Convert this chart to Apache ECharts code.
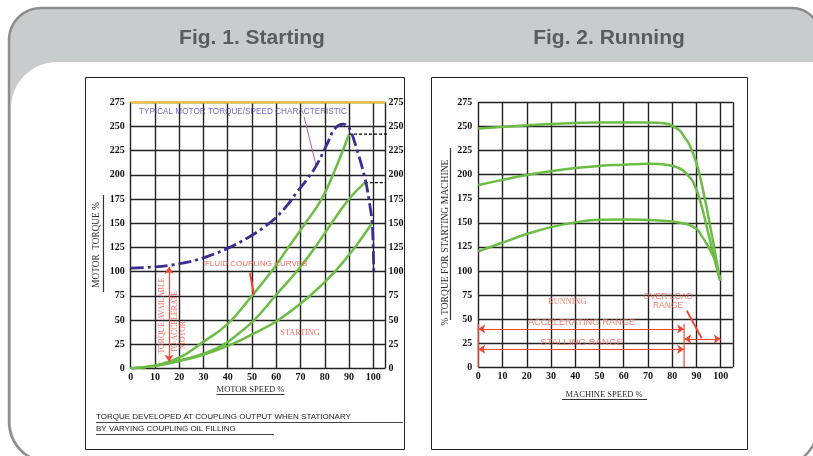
<!DOCTYPE html>
<html><head><meta charset="utf-8">
<script src="https://cdn.jsdelivr.net/npm/echarts@6/dist/echarts.min.js"></script>
<style>html,body{margin:0;padding:0;background:#fff}#c{width:813px;height:456px}</style>
</head><body><div id="c"></div>
<script>
// ---------- data ----------
const panelTitles = ['Fig. 1. Starting', 'Fig. 2. Running'];
const torqueTicks = [0, 275, 25];      // min, max, step
const speedTicks = [0, 105, 10];       // min, max, step (labels up to 100)

// Fig 1 – typical motor torque/speed characteristic
const motorSpeed  = [0, 8, 16, 24, 32, 40, 49, 55, 60, 65, 68.5, 72, 76.4, 81, 83.6, 86, 87.7, 90, 93.4, 96.8, 98.5, 99.6, 100.2];
const motorTorque = [103.5, 104.5, 106.5, 110, 116, 124, 136, 146, 156, 170, 182, 193, 209, 232, 246, 251.5, 252.5, 249, 225, 194, 170, 149, 100];
// Fig 1 – fluid coupling curves (three oil fillings)
const couplingA_x = [0, 10, 20, 28.6, 40, 50, 58, 65, 72, 78.7, 84.2, 90];
const couplingA_y = [0, 3, 11, 25, 46, 75, 100, 125, 150, 175, 205, 242];
const couplingB_x = [0, 10, 20, 30, 38, 45, 51, 60, 68.4, 76, 82.8, 90, 96.5];
const couplingB_y = [0, 2.5, 8, 15, 24, 37, 50, 76, 100, 125, 150, 175, 192];
const couplingC_x = [0, 10, 20, 30, 41.7, 50, 60.9, 73.9, 84.2, 92.4, 99.3];
const couplingC_y = [0, 2.5, 7.5, 14, 25, 35, 50, 75, 100, 125, 149.5];

// Fig 2 – % torque for starting machine vs machine speed
const runHigh_x = [0, 10, 19, 30, 40.6, 50, 60, 68, 73.6, 77, 79.1, 81, 83.2, 85, 87.3, 90.1, 92.8, 96.3, 99.7];
const runHigh_y = [247.9, 249.5, 251, 252.5, 253.5, 254, 254, 254, 253.8, 253, 251.7, 249, 245.5, 239, 230, 211, 183, 138, 90];
const runMid_x  = [0, 10, 20, 30, 40, 50, 60, 70.2, 75, 79.1, 82, 84.6, 86.5, 88.7, 91.5, 95, 99, 100];
const runMid_y  = [189.1, 194.5, 199.5, 203.5, 206.8, 209, 210.2, 211.3, 211, 209.5, 207.5, 204, 199, 192, 173, 138, 97, 90];
const runLow_x  = [0, 10.3, 20, 29.6, 40, 50.2, 60, 70.2, 79.1, 86, 90.1, 92, 94.2, 97.7, 99.7];
const runLow_y  = [120.3, 129.7, 138.3, 145.2, 150.4, 153.2, 153.5, 152.8, 151.5, 148.7, 143.5, 137, 128, 110.7, 91.7];

// Fig 2 – ranges
const accelRange = [0, 84.9, 39.8];     // from speed, to speed, at torque
const stallRange = [0, 84.9, 18.7];
const overloadRange = [85, 100, 29.4];

// ---------- helpers ----------
const SERIF = '"Liberation Serif","Times New Roman",serif';
const SANS = '"Liberation Sans",Arial,sans-serif';
const RED = '#ee4735', GREEN = '#6bbd46', BLUE = '#3b2e93', GRID = '#222222';
const pairs = (xs, ys) => xs.map((x, i) => [x, ys[i]]);

function curve(xs, ys, color, width, g, extra) {
  return Object.assign({
    type: 'line', xAxisIndex: g, yAxisIndex: g === 0 ? 0 : 2,
    data: pairs(xs, ys), smooth: 0.45, showSymbol: false, symbol: 'none',
    lineStyle: { color, width }, silent: true, z: 3
  }, extra || {});
}
function seg(p, q, color, width, g, extra) {
  return Object.assign({
    type: 'line', xAxisIndex: g, yAxisIndex: g === 0 ? 0 : 2, data: [p, q],
    symbol: 'none', lineStyle: { color, width }, silent: true, z: 4, clip: false
  }, extra || {});
}
function arrows(lines, g) {
  return {
    type: 'line', xAxisIndex: g, yAxisIndex: g === 0 ? 0 : 2, data: [], silent: true,
    markLine: {
      silent: true, animation: false, symbol: ['arrow', 'arrow'], symbolSize: 7,
      label: { show: false }, emphasis: { disabled: true },
      lineStyle: { color: RED, width: 1.2, type: 'solid' },
      data: lines.map(l => [{ coord: l[0] }, { coord: l[1] }])
    }
  };
}
function texts(items, g) {
  return {
    type: 'scatter', xAxisIndex: g, yAxisIndex: g === 0 ? 0 : 2, symbolSize: 0, silent: true, z: 6,
    data: items.map(t => ({
      value: t.at,
      label: Object.assign({ show: true, position: 'inside', formatter: t.text, color: RED,
        fontFamily: SANS, fontSize: 8 }, t.style || {})
    }))
  };
}

const axisLbl = { fontFamily: SERIF, fontWeight: 'bold', fontSize: 10, color: '#111' };
function xAx(g) {
  return { type: 'value', gridIndex: g, min: speedTicks[0], max: speedTicks[1], interval: speedTicks[2],
    axisLine: { show: false }, axisTick: { show: false },
    splitLine: { show: true, lineStyle: { color: GRID, width: 1.4 } },
    axisLabel: Object.assign({ margin: 4, formatter: v => v > 100 ? '' : String(v) }, axisLbl) };
}
function yAx(g, pos, labelsOnly) {
  return { type: 'value', gridIndex: g, position: pos, min: torqueTicks[0], max: torqueTicks[1], interval: torqueTicks[2],
    axisLine: { show: false }, axisTick: { show: false },
    splitLine: { show: !labelsOnly, lineStyle: { color: GRID, width: 1.4 } },
    axisLabel: Object.assign({ margin: labelsOnly ? 3 : 6 }, axisLbl) };
}

const series = [
  // ---- Fig 1 ----
  seg([0, 275], [105, 275], '#f7c13c', 2.2, 0),
  curve(couplingA_x, couplingA_y, GREEN, 2.5, 0),
  curve(couplingB_x, couplingB_y, GREEN, 2.5, 0),
  curve(couplingC_x, couplingC_y, GREEN, 2.5, 0),
  curve(motorSpeed, motorTorque, BLUE, 2.8, 0, { smooth: 0.35, lineStyle: { color: BLUE, width: 2.8, type: [13, 4, 3, 4] }, z: 5 }),
  seg([couplingA_x[couplingA_x.length - 1], couplingA_y[couplingA_y.length - 1]], [112, couplingA_y[couplingA_y.length - 1]], '#000', 1.2, 0, { lineStyle: { color: '#000', width: 1.2, type: [3, 2] } }),
  seg([couplingB_x[couplingB_x.length - 1], couplingB_y[couplingB_y.length - 1]], [105, couplingB_y[couplingB_y.length - 1]], '#000', 1.2, 0, { lineStyle: { color: '#000', width: 1.2, type: [3, 2] } }),
  seg([71.5, 260], [76.4, 210], '#b25aa9', 1, 0),
  seg([49.2, 98.8], [50.8, 75.6], RED, 2, 0),
  arrows([[[15.8, 104.9], [15.8, 6.8]]], 0),
  texts([
    { at: [3.4, 265], text: 'TYPICAL MOTOR TORQUE/SPEED CHARACTERISTIC', style: { position: 'right', distance: 0, color: '#4b3fa0', fontSize: 8.2 } },
    { at: [30.6, 107.8], text: 'FLUID COUPLING CURVES', style: { position: 'right', distance: 0, fontSize: 8 } },
    { at: [69.8, 36.2], text: 'STARTING', style: { fontFamily: SERIF, fontSize: 8.2 } },
    { at: [12.7, 54.6], text: 'TORQUE AVAILABLE', style: { fontFamily: SERIF, fontSize: 7.8, rotate: 90 } },
    { at: [18.3, 48.2], text: 'TO ACCELERATE', style: { fontFamily: SERIF, fontSize: 7.8, rotate: 90 } },
    { at: [21.6, 34.4], text: 'MOTOR', style: { fontFamily: SERIF, fontSize: 7.8, rotate: 90 } }
  ], 0),
  // ---- Fig 2 ----
  curve(runHigh_x, runHigh_y, GREEN, 2.5, 1),
  curve(runMid_x, runMid_y, GREEN, 2.5, 1),
  curve(runLow_x, runLow_y, GREEN, 2.5, 1),
  seg([0, 45], [0, 0.7], RED, 1.2, 1),
  seg([84.9, 45], [84.9, 0.7], RED, 1.2, 1),
  seg([86, 58.8], [92.2, 30], RED, 2, 1),
  arrows([
    [[accelRange[0], accelRange[2]], [accelRange[1], accelRange[2]]],
    [[stallRange[0], stallRange[2]], [stallRange[1], stallRange[2]]],
    [[overloadRange[0], overloadRange[2]], [overloadRange[1], overloadRange[2]]]
  ], 1),
  texts([
    { at: [36.7, 67.8], text: 'RUNNING', style: { fontFamily: SERIF, fontSize: 8.3, color: '#f06450' } },
    { at: [78.3, 73.3], text: 'OVER LOAD', style: { fontSize: 8.5, color: '#f06450' } },
    { at: [78.3, 63.6], text: 'RANGE', style: { fontSize: 8.5, color: '#f06450' } },
    { at: [42.6, 46.7], text: 'ACCELERATING RANGE', style: { fontSize: 9.3, color: '#f06450' } },
    { at: [42.6, 25.6], text: 'STALLING RANGE', style: { fontSize: 9.6, color: '#f06450' } }
  ], 1)
];

const g = [];
// background frame (rounded outline built from corner arcs)
function arcPts(cx, cy, r, a0, a1) {
  const pts = [];
  for (let i = 0; i <= 16; i++) {
    const a = (a0 + (a1 - a0) * i / 16) * Math.PI / 180;
    pts.push([cx + r * Math.cos(a), cy + r * Math.sin(a)]);
  }
  return pts;
}
const outerPts = [].concat(arcPts(41, 40, 32, 180, 270), arcPts(792, 36, 28, 270, 360),
  arcPts(770, 420, 50, 0, 90), arcPts(49, 422, 40, 90, 180));
const innerPts = [].concat(arcPts(57, 108, 46, 180, 270), [[820, 62]],
  arcPts(770, 420, 50, 0, 90), arcPts(51, 422, 40, 90, 180));
g.push({ type: 'polygon', z: -30, shape: { points: outerPts }, style: { fill: '#c9cccd' } });
g.push({ type: 'polygon', z: -29, shape: { points: innerPts }, style: { fill: '#fff' } });
g.push({ type: 'polygon', z: -28, shape: { points: outerPts }, style: { fill: 'none', stroke: '#8b8e90', lineWidth: 2.5 } });
// panels
g.push({ type: 'rect', z: -20, shape: { x: 85.5, y: 77.5, width: 319, height: 372 }, style: { fill: '#fff', stroke: '#222', lineWidth: 1 } });
g.push({ type: 'rect', z: -20, shape: { x: 431.5, y: 77.5, width: 316, height: 372 }, style: { fill: '#fff', stroke: '#222', lineWidth: 1 } });
// panel titles
[[252, panelTitles[0]], [609, panelTitles[1]]].forEach(([x, t]) => g.push({ type: 'text', z: 10,
  style: { text: t, x, y: 38, fill: '#5a5c5e', font: 'bold 21px ' + SANS, align: 'center', verticalAlign: 'middle', textAlign: 'center', textVerticalAlign: 'middle' } }));
function txt(t, x, y, font, fill, align, rot) {
  g.push({ type: 'text', z: 10, x, y, rotation: rot || 0,
    style: { text: t, x: 0, y: 0, fill: fill || '#2a2a2a', font, align: align || 'center', verticalAlign: 'middle', textAlign: align || 'center', textVerticalAlign: 'middle' } });
}
function ln(x1, y1, x2, y2, c, w) {
  g.push({ type: 'line', z: 10, shape: { x1, y1, x2, y2 }, style: { stroke: c || '#333', lineWidth: w || 1 } });
}
// axis titles
txt('MOTOR SPEED %', 250.5, 389.3, '8.5px ' + SERIF);
ln(216.5, 394.5, 284.5, 394.5, '#333', 1.2);
txt('MACHINE SPEED %', 604, 394.3, '8.5px ' + SERIF);
ln(562, 399.5, 647, 399.5, '#333', 1.2);
txt('MOTOR  TORQUE %', 97, 245, '9.3px ' + SERIF, '#2a2a2a', 'center', Math.PI / 2);
ln(103.5, 195, 103.5, 292, '#333', 1.2);
txt('% TORQUE FOR STARTING MACHINE', 445, 242.5, '9.6px ' + SERIF, '#2a2a2a', 'center', Math.PI / 2);
ln(450.5, 148, 450.5, 320, '#333', 1.2);
// bottom note
txt('TORQUE DEVELOPED AT COUPLING OUTPUT WHEN STATIONARY', 96, 416.7, '8px ' + SANS, '#222', 'left');
ln(96, 422.5, 403, 422.5, '#444', 1.2);
txt('BY VARYING COUPLING OIL FILLING', 96, 429, '8px ' + SANS, '#222', 'left');
ln(96, 434.5, 274, 434.5, '#444', 1.2);

const option = {
  animation: false,
  backgroundColor: '#fff',
  grid: [
    { left: 130.7, top: 102.3, width: 254.7, height: 266 },
    { left: 478.3, top: 102.3, width: 254.5, height: 265 }
  ],
  xAxis: [xAx(0), xAx(1)],
  yAxis: [yAx(0, 'left'), yAx(0, 'right', true), yAx(1, 'left')],
  graphic: { elements: g },
  series
};
const chart = echarts.init(document.getElementById('c'), null, { renderer: 'canvas' });
chart.setOption(option);
</script></body></html>
